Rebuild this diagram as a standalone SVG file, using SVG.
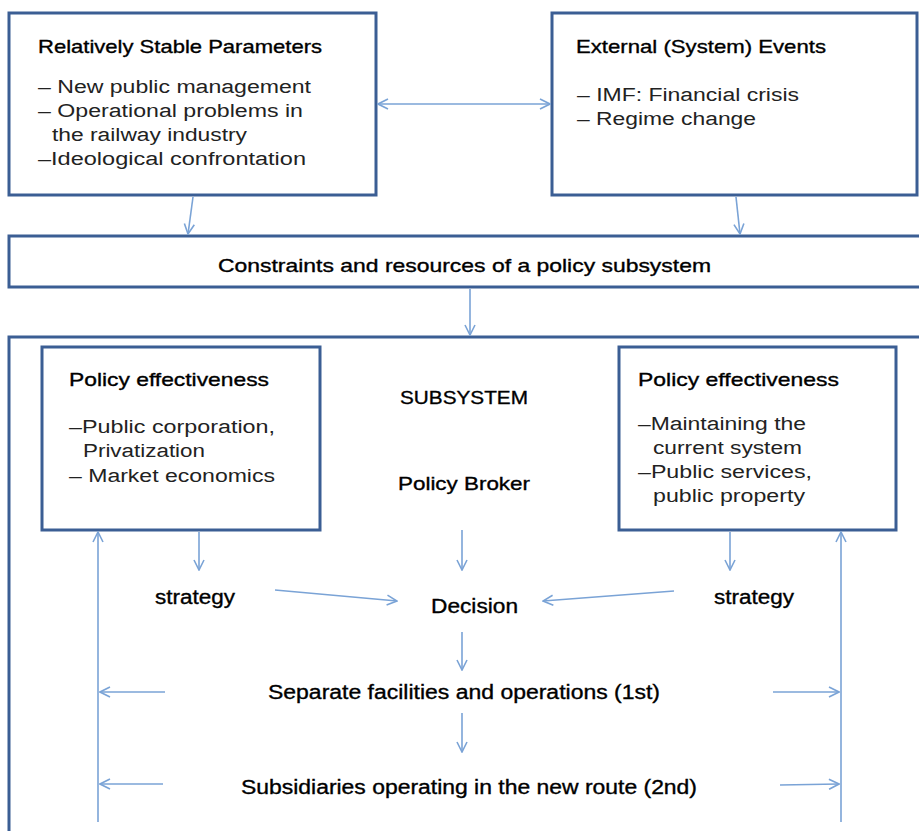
<svg xmlns="http://www.w3.org/2000/svg" width="919" height="831" viewBox="0 0 919 831">
<style>
.box{fill:#fff;stroke:#3B5E94;stroke-width:3}
.h{font-family:"Liberation Sans",Arial,sans-serif;font-size:19px;fill:#000;stroke:#000;stroke-width:0.35}
.b{font-family:"Liberation Sans",Arial,sans-serif;font-size:18px;fill:#222}
.c{font-family:"Liberation Sans",Arial,sans-serif;font-size:20px;fill:#000;stroke:#000;stroke-width:0.35}
.con line{stroke:#7AA3D6;stroke-width:1.6;fill:none}
</style>
<defs>
<marker id="a" viewBox="0 0 12 12" refX="11" refY="6" markerWidth="12" markerHeight="12" markerUnits="userSpaceOnUse" orient="auto-start-reverse">
<path d="M1,1 L11,6 L1,11" fill="none" stroke="#7AA3D6" stroke-width="1.6"/>
</marker>
</defs>
<rect width="919" height="831" fill="#fff"/>

<g id="stable">
<rect class="box" x="9" y="13" width="367" height="182"/>
<text class="h" x="38" y="53" textLength="284" lengthAdjust="spacingAndGlyphs">Relatively Stable Parameters</text>
<text class="b" x="38" y="93" textLength="273" lengthAdjust="spacingAndGlyphs">– New public management</text>
<text class="b" x="38" y="117" textLength="265" lengthAdjust="spacingAndGlyphs">– Operational problems in</text>
<text class="b" x="52" y="141" textLength="195" lengthAdjust="spacingAndGlyphs">the railway industry</text>
<text class="b" x="38" y="165" textLength="268" lengthAdjust="spacingAndGlyphs">–Ideological confrontation</text>
</g>

<g id="external">
<rect class="box" x="552" y="13" width="365" height="182"/>
<text class="h" x="576" y="53" textLength="250" lengthAdjust="spacingAndGlyphs">External (System) Events</text>
<text class="b" x="577" y="101" textLength="222" lengthAdjust="spacingAndGlyphs">– IMF: Financial crisis</text>
<text class="b" x="577" y="125" textLength="179" lengthAdjust="spacingAndGlyphs">– Regime change</text>
</g>

<g id="constraints">
<rect class="box" x="9" y="236" width="915" height="51"/>
<text class="h" x="218" y="272" textLength="493" lengthAdjust="spacingAndGlyphs">Constraints and resources of a policy subsystem</text>
</g>

<g id="subsystem">
<rect class="box" x="9" y="337" width="915" height="500"/>
<text class="h" x="400" y="404" textLength="128" lengthAdjust="spacingAndGlyphs">SUBSYSTEM</text>
<text class="h" x="398" y="490" textLength="132" lengthAdjust="spacingAndGlyphs">Policy Broker</text>
</g>

<g id="effect-left">
<rect class="box" x="42" y="347" width="278" height="183"/>
<text class="h" x="69" y="386" textLength="200" lengthAdjust="spacingAndGlyphs">Policy effectiveness</text>
<text class="b" x="69" y="433" textLength="206" lengthAdjust="spacingAndGlyphs">–Public corporation,</text>
<text class="b" x="83" y="457" textLength="122" lengthAdjust="spacingAndGlyphs">Privatization</text>
<text class="b" x="69" y="482" textLength="206" lengthAdjust="spacingAndGlyphs">– Market economics</text>
</g>

<g id="effect-right">
<rect class="box" x="619" y="347" width="277" height="183"/>
<text class="h" x="638" y="386" textLength="201" lengthAdjust="spacingAndGlyphs">Policy effectiveness</text>
<text class="b" x="638" y="430" textLength="168" lengthAdjust="spacingAndGlyphs">–Maintaining the</text>
<text class="b" x="653" y="454" textLength="149" lengthAdjust="spacingAndGlyphs">current system</text>
<text class="b" x="638" y="478" textLength="174" lengthAdjust="spacingAndGlyphs">–Public services,</text>
<text class="b" x="653" y="502" textLength="152" lengthAdjust="spacingAndGlyphs">public property</text>
</g>

<g id="strategy-left"><text class="c" x="155" y="604" textLength="80" lengthAdjust="spacingAndGlyphs">strategy</text></g>
<g id="decision"><text class="c" x="431" y="613" textLength="87" lengthAdjust="spacingAndGlyphs">Decision</text></g>
<g id="strategy-right"><text class="c" x="714" y="604" textLength="80" lengthAdjust="spacingAndGlyphs">strategy</text></g>
<g id="first"><text class="c" x="268" y="699" textLength="392" lengthAdjust="spacingAndGlyphs">Separate facilities and operations (1st)</text></g>
<g id="second"><text class="c" x="241" y="794" textLength="456" lengthAdjust="spacingAndGlyphs">Subsidiaries operating in the new route (2nd)</text></g>

<g class="con" id="connectors">
<line x1="378" y1="104" x2="550" y2="104" marker-start="url(#a)" marker-end="url(#a)"/>
<line x1="193" y1="197" x2="188" y2="234" marker-end="url(#a)"/>
<line x1="736" y1="197" x2="740" y2="234" marker-end="url(#a)"/>
<line x1="470" y1="289" x2="470" y2="335" marker-end="url(#a)"/>
<line x1="98" y1="822" x2="98" y2="532" marker-end="url(#a)"/>
<line x1="841" y1="822" x2="841" y2="532" marker-end="url(#a)"/>
<line x1="199" y1="532" x2="199" y2="570" marker-end="url(#a)"/>
<line x1="730" y1="532" x2="730" y2="570" marker-end="url(#a)"/>
<line x1="462" y1="530" x2="462" y2="570" marker-end="url(#a)"/>
<line x1="275" y1="590" x2="397" y2="601" marker-end="url(#a)"/>
<line x1="674" y1="591" x2="543" y2="601" marker-end="url(#a)"/>
<line x1="462" y1="632" x2="462" y2="670" marker-end="url(#a)"/>
<line x1="462" y1="713" x2="462" y2="752" marker-end="url(#a)"/>
<line x1="165" y1="692" x2="100" y2="692" marker-end="url(#a)"/>
<line x1="773" y1="692" x2="839" y2="692" marker-end="url(#a)"/>
<line x1="163" y1="784" x2="100" y2="784" marker-end="url(#a)"/>
<line x1="780" y1="785" x2="839" y2="784" marker-end="url(#a)"/>
</g>
</svg>
